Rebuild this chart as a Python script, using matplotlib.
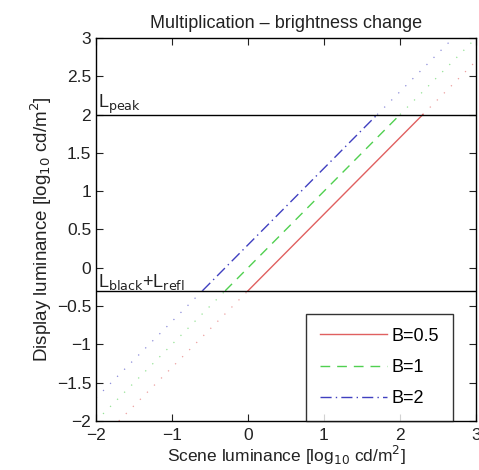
import matplotlib
matplotlib.use("Agg")
import matplotlib.pyplot as plt

plt.rcParams['font.family'] = ['Liberation Sans', 'DejaVu Sans']

# Data
labels = ["B=0.5", "B=1", "B=2"]
colors = ["#e06060", "#50d050", "#4040c0"]
styles = ["-", (0, (7, 5)), (0, (8, 3, 1, 3))]
# in-range segments (clipped between L_black+L_refl and L_peak)
seg_x = [[0.0, 2.3], [-0.3, 2.0], [-0.6, 1.7]]
seg_y = [[-0.3, 2.0], [-0.3, 2.0], [-0.3, 2.0]]
# out-of-range parts (dotted)
low_x = [[-1.7, 0.0], [-2.0, -0.3], [-2.0, -0.6]]
low_y = [[-2.0, -0.3], [-2.0, -0.3], [-1.7, -0.3]]
high_x = [[2.3, 3.0], [2.0, 3.0], [1.7, 2.7]]
high_y = [[2.0, 2.7], [2.0, 3.0], [2.0, 3.0]]
L_peak = 2.0
L_black_refl = -0.3
xticks = [-2, -1, 0, 1, 2, 3]
yticks = [-2, -1.5, -1, -0.5, 0, 0.5, 1, 1.5, 2, 2.5, 3]
ytick_labels = ["\u22122", "\u22121.5", "\u22121", "\u22120.5", "0", "0.5", "1", "1.5", "2", "2.5", "3"]
xtick_labels = ["\u22122", "\u22121", "0", "1", "2", "3"]

fig = plt.figure(figsize=(4.79, 4.70), dpi=100)
ax = fig.add_axes([96/479, 1 - 421/470, 380/479, (421-38)/470])

handles = []
for i in range(3):
    h, = ax.plot(seg_x[i], seg_y[i], color=colors[i], linestyle=styles[i], lw=1.0, label=labels[i])
    handles.append(h)
    ax.plot(low_x[i], low_y[i], color=colors[i], linestyle=(0, (1, 7)), lw=0.9, alpha=0.6)
    ax.plot(high_x[i], high_y[i], color=colors[i], linestyle=(0, (1, 7)), lw=0.9, alpha=0.6)

ax.axhline(L_peak, color='black', lw=1.0)
ax.axhline(L_black_refl, color='black', lw=1.0)
ax.text(-1.97, L_peak - 0.02, r"L$_{\mathrm{peak}}$", fontsize=13, va='bottom', ha='left', color='#222222')
ax.text(-1.97, L_black_refl - 0.02, r"L$_{\mathrm{black}}$+L$_{\mathrm{refl}}$", fontsize=13, va='bottom', ha='left', color='#222222')

ax.set_xlim(-2, 3)
ax.set_ylim(-2, 3)
ax.set_xticks(xticks)
ax.set_xticklabels(xtick_labels)
ax.set_yticks(yticks)
ax.set_yticklabels(ytick_labels)
ax.tick_params(direction='in', top=True, right=True, labelsize=12.5, length=5, width=0.8, colors='#222222')
ax.tick_params(axis='x', pad=5)
for s in ax.spines.values():
    s.set_linewidth(1.0)

ax.set_title("Multiplication \u2013 brightness change", fontsize=13, color='#222222', pad=7)
ax.set_xlabel(r"Scene luminance [log$_{10}$ cd/m$^2$]", fontsize=12.5, color='#222222', labelpad=1)
ax.set_ylabel(r"Display luminance [log$_{10}$ cd/m$^2$]", fontsize=13.5, color='#222222', labelpad=2)

leg = ax.legend(handles=handles, loc='lower right', bbox_to_anchor=(453/479, 1 - 421/470),
                bbox_transform=fig.transFigure, fontsize=13, frameon=True, fancybox=False,
                edgecolor='black', handlelength=3.7, borderpad=0.75, labelspacing=0.8,
                handletextpad=0.3, borderaxespad=0)
leg.get_frame().set_linewidth(1.0)

fig.savefig("out.png", dpi=100)
